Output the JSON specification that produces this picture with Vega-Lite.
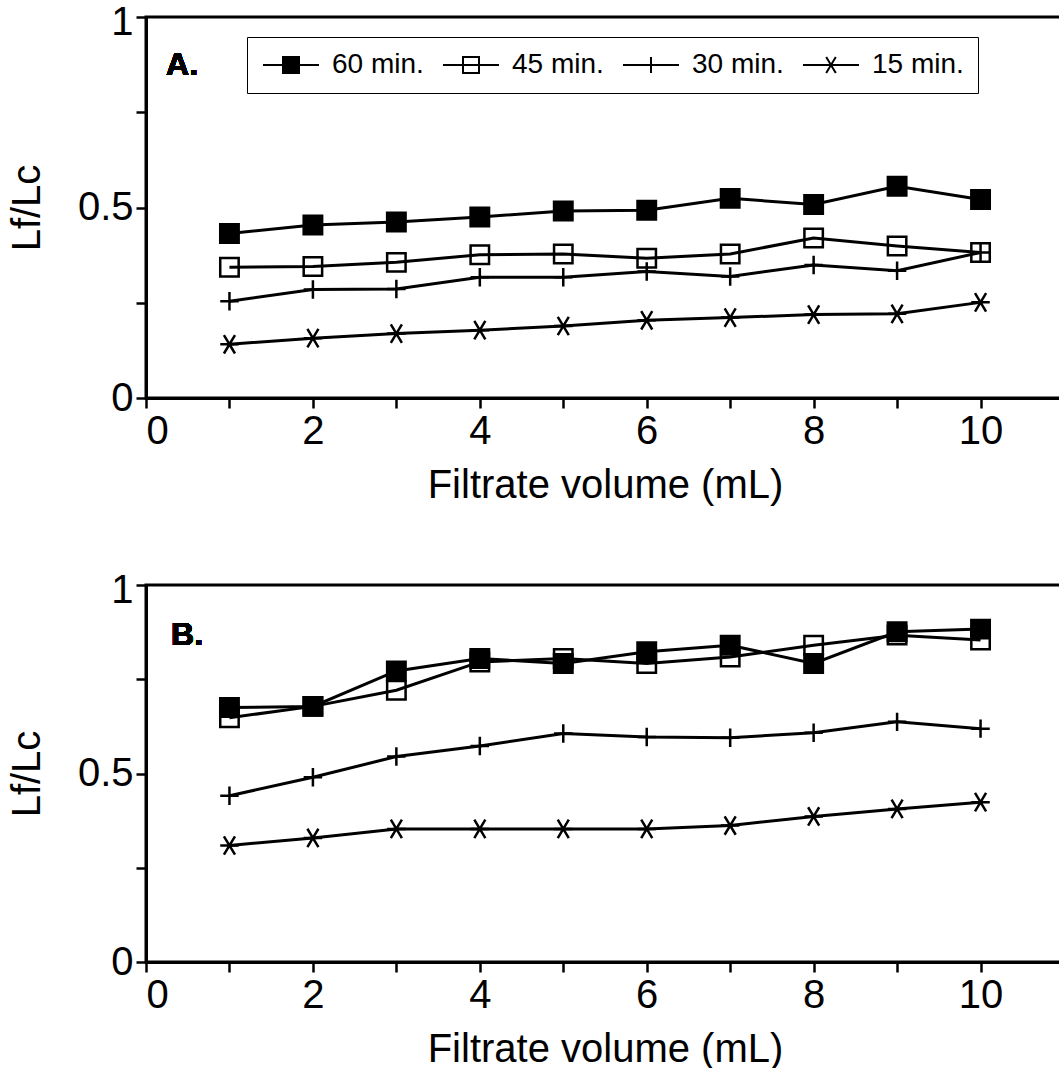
{
  "$schema": "https://vega.github.io/schema/vega-lite/v6.json",
  "background": "white",
  "padding": {"left": 5, "top": 0, "right": 0, "bottom": 0},
  "config": {
    "font": "Liberation Sans",
    "view": {"stroke": "black", "strokeWidth": 3},
    "axis": {"domainColor": "black", "domainWidth": 3, "tickColor": "black", "tickWidth": 2.5, "tickSize": 10, "labelColor": "black", "labelFont": "Liberation Sans", "labelFontSize": 40, "titleFont": "Liberation Sans", "titleFontSize": 40, "titleFontWeight": "normal", "titleColor": "black", "grid": false, "labelPadding": 3},
    "concat": {"spacing": 61}
  },
  "datasets": {
    "a": [
      {"series": "15 min.", "volume": 1, "ratio": 0.141}, {"series": "15 min.", "volume": 2, "ratio": 0.157}, {"series": "15 min.", "volume": 3, "ratio": 0.169}, {"series": "15 min.", "volume": 4, "ratio": 0.178}, {"series": "15 min.", "volume": 5, "ratio": 0.189}, {"series": "15 min.", "volume": 6, "ratio": 0.204}, {"series": "15 min.", "volume": 7, "ratio": 0.211}, {"series": "15 min.", "volume": 8, "ratio": 0.219}, {"series": "15 min.", "volume": 9, "ratio": 0.221}, {"series": "15 min.", "volume": 10, "ratio": 0.251},
      {"series": "30 min.", "volume": 1, "ratio": 0.254}, {"series": "30 min.", "volume": 2, "ratio": 0.285}, {"series": "30 min.", "volume": 3, "ratio": 0.286}, {"series": "30 min.", "volume": 4, "ratio": 0.317}, {"series": "30 min.", "volume": 5, "ratio": 0.317}, {"series": "30 min.", "volume": 6, "ratio": 0.332}, {"series": "30 min.", "volume": 7, "ratio": 0.319}, {"series": "30 min.", "volume": 8, "ratio": 0.349}, {"series": "30 min.", "volume": 9, "ratio": 0.334}, {"series": "30 min.", "volume": 10, "ratio": 0.382},
      {"series": "45 min.", "volume": 1, "ratio": 0.343}, {"series": "45 min.", "volume": 2, "ratio": 0.345}, {"series": "45 min.", "volume": 3, "ratio": 0.356}, {"series": "45 min.", "volume": 4, "ratio": 0.376}, {"series": "45 min.", "volume": 5, "ratio": 0.378}, {"series": "45 min.", "volume": 6, "ratio": 0.367}, {"series": "45 min.", "volume": 7, "ratio": 0.378}, {"series": "45 min.", "volume": 8, "ratio": 0.420}, {"series": "45 min.", "volume": 9, "ratio": 0.399}, {"series": "45 min.", "volume": 10, "ratio": 0.382},
      {"series": "60 min.", "volume": 1, "ratio": 0.432}, {"series": "60 min.", "volume": 2, "ratio": 0.454}, {"series": "60 min.", "volume": 3, "ratio": 0.462}, {"series": "60 min.", "volume": 4, "ratio": 0.475}, {"series": "60 min.", "volume": 5, "ratio": 0.491}, {"series": "60 min.", "volume": 6, "ratio": 0.493}, {"series": "60 min.", "volume": 7, "ratio": 0.524}, {"series": "60 min.", "volume": 8, "ratio": 0.508}, {"series": "60 min.", "volume": 9, "ratio": 0.556}, {"series": "60 min.", "volume": 10, "ratio": 0.521}
    ],
    "b": [
      {"series": "15 min.", "volume": 1, "ratio": 0.309}, {"series": "15 min.", "volume": 2, "ratio": 0.329}, {"series": "15 min.", "volume": 3, "ratio": 0.353}, {"series": "15 min.", "volume": 4, "ratio": 0.353}, {"series": "15 min.", "volume": 5, "ratio": 0.353}, {"series": "15 min.", "volume": 6, "ratio": 0.353}, {"series": "15 min.", "volume": 7, "ratio": 0.362}, {"series": "15 min.", "volume": 8, "ratio": 0.386}, {"series": "15 min.", "volume": 9, "ratio": 0.406}, {"series": "15 min.", "volume": 10, "ratio": 0.424},
      {"series": "30 min.", "volume": 1, "ratio": 0.441}, {"series": "30 min.", "volume": 2, "ratio": 0.490}, {"series": "30 min.", "volume": 3, "ratio": 0.545}, {"series": "30 min.", "volume": 4, "ratio": 0.573}, {"series": "30 min.", "volume": 5, "ratio": 0.606}, {"series": "30 min.", "volume": 6, "ratio": 0.597}, {"series": "30 min.", "volume": 7, "ratio": 0.595}, {"series": "30 min.", "volume": 8, "ratio": 0.608}, {"series": "30 min.", "volume": 9, "ratio": 0.637}, {"series": "30 min.", "volume": 10, "ratio": 0.619},
      {"series": "45 min.", "volume": 1, "ratio": 0.648}, {"series": "45 min.", "volume": 2, "ratio": 0.678}, {"series": "45 min.", "volume": 3, "ratio": 0.721}, {"series": "45 min.", "volume": 4, "ratio": 0.796}, {"series": "45 min.", "volume": 5, "ratio": 0.805}, {"series": "45 min.", "volume": 6, "ratio": 0.792}, {"series": "45 min.", "volume": 7, "ratio": 0.809}, {"series": "45 min.", "volume": 8, "ratio": 0.840}, {"series": "45 min.", "volume": 9, "ratio": 0.867}, {"series": "45 min.", "volume": 10, "ratio": 0.854},
      {"series": "60 min.", "volume": 1, "ratio": 0.675}, {"series": "60 min.", "volume": 2, "ratio": 0.678}, {"series": "60 min.", "volume": 3, "ratio": 0.772}, {"series": "60 min.", "volume": 4, "ratio": 0.805}, {"series": "60 min.", "volume": 5, "ratio": 0.792}, {"series": "60 min.", "volume": 6, "ratio": 0.823}, {"series": "60 min.", "volume": 7, "ratio": 0.840}, {"series": "60 min.", "volume": 8, "ratio": 0.792}, {"series": "60 min.", "volume": 9, "ratio": 0.876}, {"series": "60 min.", "volume": 10, "ratio": 0.883}
    ]
  },
  "resolve": {"scale": {"shape": "independent"}, "legend": {"shape": "independent"}},
  "vconcat": [
    {
      "width": 918,
      "height": 381,
      "data": {"name": "a"},
      "encoding": {
        "x": {"field": "volume", "type": "quantitative", "scale": {"domain": [0, 11], "nice": false}, "axis": {"values": [0, 1, 2, 3, 4, 5, 6, 7, 8, 9, 10], "labelExpr": "datum.value % 2 == 0 ? datum.label : ''", "title": "Filtrate volume (mL)", "titlePadding": 14}},
        "y": {"field": "ratio", "type": "quantitative", "scale": {"domain": [0, 1], "nice": false}, "axis": {"values": [0, 0.25, 0.5, 0.75, 1], "labelExpr": "datum.value == 0 ? '0' : datum.value == 0.5 ? '0.5' : datum.value == 1 ? '1' : ''", "labelOffset": {"condition": {"test": "datum.value == 1", "value": 5}, "value": 0}, "title": "Lf/Lc", "titlePadding": 30}}
      },
      "layer": [
        {"mark": {"type": "line", "color": "black", "strokeWidth": 3}, "encoding": {"detail": {"field": "series"}}},
        {
          "mark": {"type": "point", "stroke": "black", "strokeWidth": 2.5, "opacity": 1, "size": 340},
          "encoding": {
            "fill": {"condition": {"test": "datum.series === '60 min.'", "value": "black"}, "value": "transparent"},
            "shape": {"condition": [{"test": "datum.series === '60 min.' || datum.series === '45 min.'", "value": "square"}, {"test": "datum.series === '30 min.'", "value": "M-1,0H1M0,-1V1"}], "value": "M-1,0H1M-0.6,-1L0.6,1M-0.6,1L0.6,-1"}
          }
        },
        {
          "mark": {"type": "point", "filled": false, "stroke": "black", "strokeWidth": 2, "opacity": 0, "size": 256},
          "encoding": {
            "shape": {"field": "series", "type": "nominal", "scale": {"domain": ["60 min.", "45 min.", "30 min.", "15 min."], "range": ["M-3.5,0H3.5M-1,-1H1V1H-1ZM-1,-0.75H1M-1,-0.5H1M-1,-0.25H1M-1,0.25H1M-1,0.5H1M-1,0.75H1", "M-3.5,0H3.5M-1,-1H1V1H-1Z", "M-3.5,0H3.5M0,-1V1", "M-3.5,0H3.5M-0.6,-1L0.6,1M-0.6,1L0.6,-1"]},
              "legend": {"orient": "none", "legendX": 101, "legendY": 20, "direction": "horizontal", "title": null, "strokeColor": "black", "padding": 14, "fillColor": "white", "labelFontSize": 28, "labelFont": "Liberation Sans", "labelColor": "black", "symbolSize": 256, "symbolOffset": 16, "labelOffset": 27, "columnPadding": 15, "symbolStrokeWidth": 2, "symbolStrokeColor": "black", "symbolFillColor": "transparent", "symbolOpacity": 1}}
          }
        },
        {"mark": {"type": "text", "text": "A.", "align": "left", "baseline": "alphabetic", "font": "Liberation Sans", "fontSize": 32, "fontWeight": "bold", "color": "black"}, "encoding": {"x": {"datum": 0.24}, "y": {"datum": 0.848}}}
      ]
    },
    {
      "width": 918,
      "height": 377,
      "data": {"name": "b"},
      "encoding": {
        "x": {"field": "volume", "type": "quantitative", "scale": {"domain": [0, 11], "nice": false}, "axis": {"values": [0, 1, 2, 3, 4, 5, 6, 7, 8, 9, 10], "labelExpr": "datum.value % 2 == 0 ? datum.label : ''", "title": "Filtrate volume (mL)", "titlePadding": 14}},
        "y": {"field": "ratio", "type": "quantitative", "scale": {"domain": [0, 1], "nice": false}, "axis": {"values": [0, 0.25, 0.5, 0.75, 1], "labelExpr": "datum.value == 0 ? '0' : datum.value == 0.5 ? '0.5' : datum.value == 1 ? '1' : ''", "labelOffset": {"condition": {"test": "datum.value == 1", "value": 5}, "value": 0}, "title": "Lf/Lc", "titlePadding": 30}}
      },
      "layer": [
        {"mark": {"type": "line", "color": "black", "strokeWidth": 3}, "encoding": {"detail": {"field": "series"}}},
        {
          "mark": {"type": "point", "stroke": "black", "strokeWidth": 2.5, "opacity": 1, "size": 340},
          "encoding": {
            "fill": {"condition": {"test": "datum.series === '60 min.'", "value": "black"}, "value": "transparent"},
            "shape": {"condition": [{"test": "datum.series === '60 min.' || datum.series === '45 min.'", "value": "square"}, {"test": "datum.series === '30 min.'", "value": "M-1,0H1M0,-1V1"}], "value": "M-1,0H1M-0.6,-1L0.6,1M-0.6,1L0.6,-1"}
          }
        },
        {"mark": {"type": "text", "text": "B.", "align": "left", "baseline": "alphabetic", "font": "Liberation Sans", "fontSize": 32, "fontWeight": "bold", "color": "black"}, "encoding": {"x": {"datum": 0.3}, "y": {"datum": 0.84}}}
      ]
    }
  ]
}
